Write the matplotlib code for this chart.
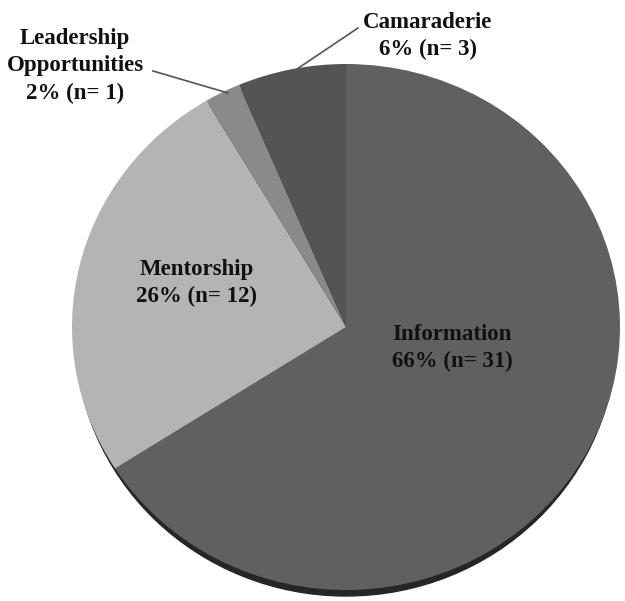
import matplotlib.pyplot as plt
from matplotlib.patches import Ellipse

# data
categories = ["Information", "Mentorship", "Leadership\nOpportunities", "Camaraderie"]
counts = [31, 12, 1, 3]
percents = [66, 26, 2, 6]
colours = ["#606060", "#b4b4b4", "#8a8a8a", "#545454"]

W, H = 625, 601
fig = plt.figure(figsize=(W / 100, H / 100), dpi=100)
ax = fig.add_axes([0, 0, 1, 1])

# y units are stretched a bit so the pie reads as a slightly tilted disc
sy = 274 / 263
cx, cy = 346, (H - 327) * sy
r = 274

# dark rim under the pie
ax.add_patch(Ellipse((cx, cy - 6 * sy), 2 * r - 6, 2 * r, color="#262626", zorder=1))

ax.pie(counts, colors=colours, startangle=90, counterclock=False,
       center=(cx, cy), radius=r, frame=True,
       wedgeprops=dict(linewidth=0, zorder=2))
ax.set_aspect("auto")
ax.set_xlim(0, W)
ax.set_ylim(0, H * sy)
ax.axis("off")

font = dict(family="Liberation Serif", fontweight="bold", fontsize=16.5,
            ha="center", va="center", linespacing=1.4, color="#111111")

# label positions in pixels (x, y from top)
label_pos = [(452, 348), (197, 283), (75, 66), (428, 36)]
for name, n, p, (lx, ly) in zip(categories, counts, percents, label_pos):
    ax.text(lx, (H - ly) * sy, f"{name}\n{p}% (n= {n})", zorder=5, **font)

# leader lines
def px(x, y):
    return x, (H - y) * sy

for (x0, y0), (x1, y1) in [((153, 71), (228, 93)), ((358, 28), (294, 71))]:
    a, b = px(x0, y0)
    c, d = px(x1, y1)
    ax.plot([a, c], [b, d], color="#555555", lw=1.2, zorder=4)

fig.savefig("out.png", dpi=100, facecolor="white")
